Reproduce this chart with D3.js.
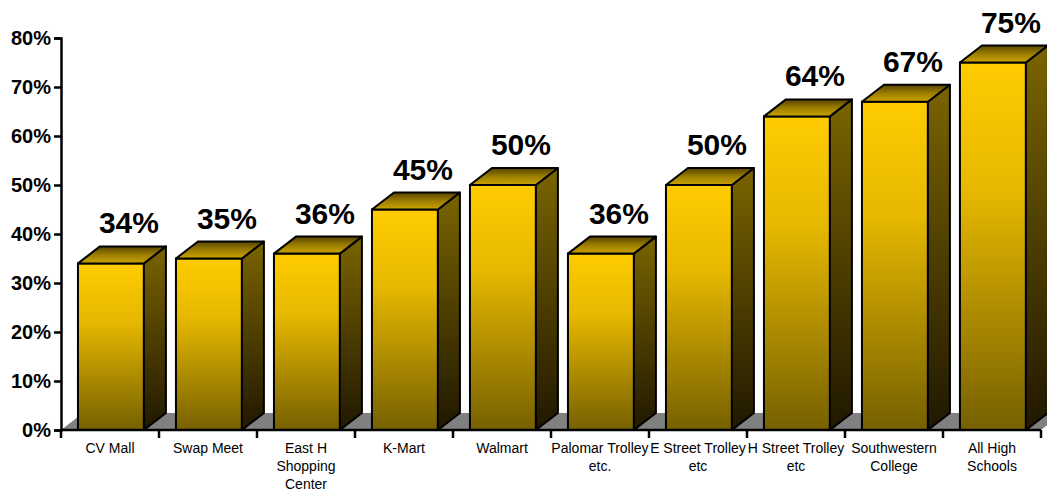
<!DOCTYPE html>
<html>
<head>
<meta charset="utf-8">
<script src="https://cdn.jsdelivr.net/npm/d3@7"></script>
<style>
  html, body { margin: 0; padding: 0; background: #fff; }
  svg { display: block; }
</style>
</head>
<body>
<svg id="chart" width="1047" height="495"></svg>
<script>
const categories = ["CV Mall", "Swap Meet", "East H Shopping Center", "K-Mart", "Walmart",
  "Palomar Trolley etc.", "E Street Trolley etc", "H Street Trolley etc", "Southwestern College", "All High Schools"];
const values = [34, 35, 36, 45, 50, 36, 50, 64, 67, 75];
const yTicks = [0, 10, 20, 30, 40, 50, 60, 70, 80];

const svg = d3.select("#chart");
const font = "'Liberation Sans', Arial, sans-serif";

const x = d3.scaleBand().domain(categories).range([61, 1041]).padding(0);
const y = d3.scaleLinear().domain([0, 80]).range([430, 38]);

const dx = 22, dy = 17;
const bw = x.bandwidth();
const frontOff = bw * 0.173, frontW = bw * 0.673;

const defs = svg.append("defs");
function grad(id, stops) {
  const g = defs.append("linearGradient").attr("id", id)
    .attr("x1", 0).attr("y1", 0).attr("x2", 0).attr("y2", 1);
  stops.forEach(s => g.append("stop").attr("offset", s[0]).attr("stop-color", s[1]));
}
grad("gFront", [[0, "#ffcc00"], [0.35, "#e6b800"], [1, "#766000"]]);
grad("gSide", [[0, "#7a6400"], [1, "#201800"]]);
grad("gTop", [[0, "#574400"], [0.5, "#9c7e00"], [1, "#cca400"]]);

// floor
const x0 = x.range()[0], x1 = x.range()[1], yb = y(0);
svg.append("path")
  .attr("d", `M${x0},${yb} L${x1},${yb} L${x1 + dx},${yb - dy} L${x0 + dx},${yb - dy} Z`)
  .attr("fill", "#808080");

// bars
const bars = svg.append("g").selectAll("g").data(categories).join("g");
bars.each(function(c, i) {
  const g = d3.select(this);
  const fx = x(c) + frontOff, fw = frontW, ty = y(values[i]);
  g.append("rect").attr("x", fx).attr("y", ty).attr("width", fw).attr("height", yb - ty)
    .attr("fill", "url(#gFront)").attr("stroke", "#000").attr("stroke-width", 2);
  g.append("path")
    .attr("d", `M${fx + fw},${ty} L${fx + fw + dx},${ty - dy} L${fx + fw + dx},${yb - dy} L${fx + fw},${yb} Z`)
    .attr("fill", "url(#gSide)").attr("stroke", "#000").attr("stroke-width", 2).attr("stroke-linejoin", "round");
  g.append("path")
    .attr("d", `M${fx},${ty} L${fx + dx},${ty - dy} L${fx + fw + dx},${ty - dy} L${fx + fw},${ty} Z`)
    .attr("fill", "url(#gTop)").attr("stroke", "#000").attr("stroke-width", 2).attr("stroke-linejoin", "round");
  g.append("text")
    .attr("x", fx + fw / 2 + 18).attr("y", ty - dy - 13)
    .attr("text-anchor", "middle")
    .attr("font-family", font).attr("font-weight", "bold").attr("font-size", 30)
    .attr("fill", "#000")
    .text(values[i] + "%");
});

// y axis
const yAxis = svg.append("g").attr("transform", `translate(${x0},0)`)
  .call(d3.axisLeft(y).tickValues(yTicks).tickSize(7).tickPadding(3).tickFormat(d => d + "%"));
yAxis.select(".domain").attr("stroke", "#000").attr("stroke-width", 2.5);
yAxis.selectAll(".tick line").attr("stroke", "#000").attr("stroke-width", 2.5);
yAxis.selectAll(".tick text").attr("font-family", font).attr("font-weight", "bold")
  .attr("font-size", 20).attr("fill", "#000");

// x axis
const xAxisG = svg.append("g");
xAxisG.append("line").attr("x1", x0).attr("x2", x1).attr("y1", yb).attr("y2", yb)
  .attr("stroke", "#000").attr("stroke-width", 2.5);
const boundaries = categories.map(c => x(c)).concat([x1]);
xAxisG.selectAll("line.tk").data(boundaries).join("line").attr("class", "tk")
  .attr("x1", d => d).attr("x2", d => d).attr("y1", yb).attr("y2", yb + 8)
  .attr("stroke", "#000").attr("stroke-width", 2.5);

const labels = xAxisG.selectAll("text.xl").data(categories).join("text").attr("class", "xl")
  .attr("x", d => x(d) + bw / 2).attr("y", 453)
  .attr("text-anchor", "middle")
  .attr("font-family", font).attr("font-size", 14).attr("fill", "#000");

labels.each(function(d) {
  const t = d3.select(this);
  const words = d.split(" ");
  const lines = [];
  let cur = [];
  const probe = t.append("tspan");
  words.forEach(w => {
    const test = cur.concat([w]).join(" ");
    probe.text(test);
    if (probe.node().getComputedTextLength() > 100 && cur.length) {
      lines.push(cur.join(" "));
      cur = [w];
    } else cur.push(w);
  });
  if (cur.length) lines.push(cur.join(" "));
  probe.remove();
  lines.forEach((ln, k) => {
    t.append("tspan").attr("x", x(d) + bw / 2).attr("dy", k === 0 ? 0 : 18).text(ln);
  });
});
</script>
</body>
</html>
